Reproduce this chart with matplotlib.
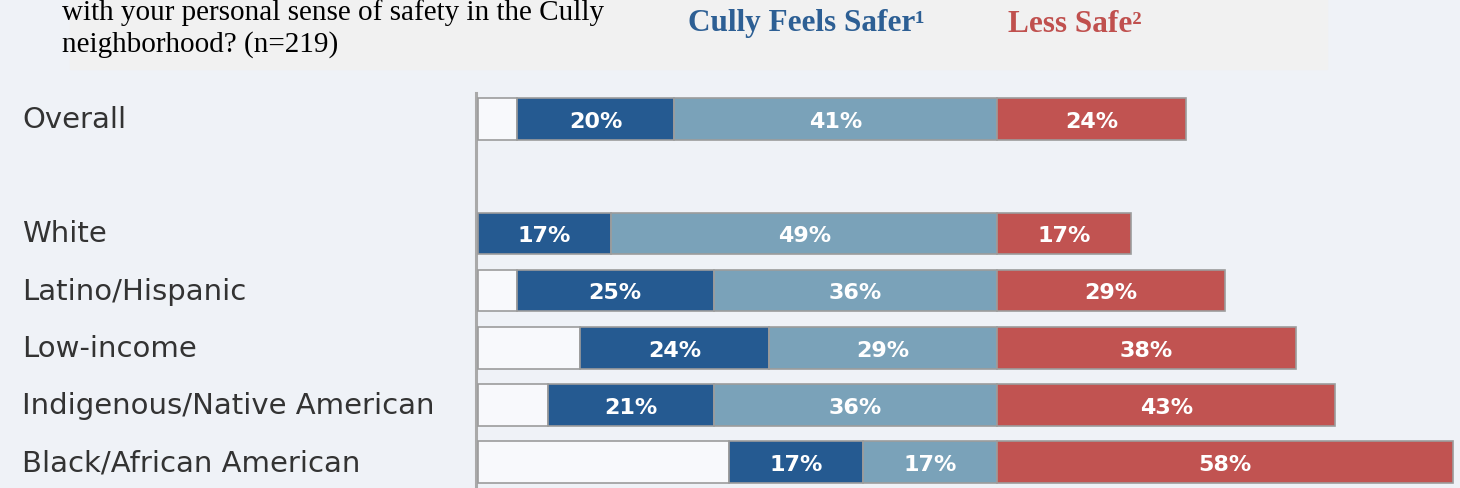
import numpy as np
import matplotlib
matplotlib.use("Agg")
import matplotlib.pyplot as plt
from matplotlib.patches import Rectangle

# survey data (percent)
groups = ["Overall", "White", "Latino/Hispanic", "Low-income",
          "Indigenous/Native American", "Black/African American"]
rows = [0, 2, 3, 4, 5, 6]
safer_much = [20, 17, 25, 24, 21, 17]
safer_some = [41, 49, 36, 29, 36, 17]
less_safe = [24, 17, 29, 38, 43, 58]

c_dark = "#255a91"
c_light = "#7aa2b9"
c_red = "#c15351"
c_edge = "#9c9c9c"
bg = "#eff2f7"

W, H = 1460, 489
fig = plt.figure(figsize=(W / 100, H / 100), dpi=100)
fig.patch.set_facecolor(bg)

ppu = 7.87          # pixels per percent
cx = 997            # pixel position of the centre line
ax = fig.add_axes([0, 0, 1, 1])
ax.set_facecolor("none")
ax.set_xlim(-cx / ppu, (W - cx) / ppu)
ax.set_ylim((H - 120) / 57.2, -120 / 57.2)
ax.axis("off")

left_span = max(a + b for a, b in zip(safer_much, safer_some))
h = 0.73
for r, d, l, s in zip(rows, safer_much, safer_some, less_safe):
    pad = left_span - d - l
    ax.barh(r, pad, left=-left_span, height=h, color="#f8f9fc",
            edgecolor=c_edge, linewidth=1.2)
    ax.barh(r, d, left=-(d + l), height=h, color=c_dark,
            edgecolor=c_edge, linewidth=1.2)
    ax.barh(r, l, left=-l, height=h, color=c_light,
            edgecolor=c_edge, linewidth=1.2)
    ax.barh(r, s, left=0, height=h, color=c_red,
            edgecolor=c_edge, linewidth=1.2)
    for x0, w in [(-(d + l), d), (-l, l), (0, s)]:
        ax.text(x0 + w / 2, r + 0.03, f"{w}%", ha="center", va="center",
                color="white", fontsize=16, fontweight="bold",
                family="DejaVu Sans")

# vertical axis line at the left end of the bars
ax.plot([-left_span - 0.25, -left_span - 0.25], [-0.45, 6.6],
        color="#a9a9a9", lw=2.2, zorder=0)

for r, g in zip(rows, groups):
    ax.text(-cx / ppu + 22 / ppu, r, g, ha="left", va="center",
            fontsize=21, color="#333333", family="DejaVu Sans")

# header box
fig.add_artist(Rectangle((70 / W, 1 - 70 / H), (1327 - 70) / W, 70 / H + 0.01,
                         transform=fig.transFigure, color="#f1f1f1", zorder=0))
fig.text(62 / W, 1 - 13 / H, "with your personal sense of safety in the Cully",
         fontsize=21, family="Liberation Serif", va="center", ha="left")
fig.text(62 / W, 1 - 45 / H, "neighborhood? (n=219)",
         fontsize=21, family="Liberation Serif", va="center", ha="left")
fig.text(688 / W, 1 - 24 / H, "Cully Feels Safer\u00b9", fontsize=22.5,
         family="Liberation Serif", fontweight="bold", color="#2d5f94",
         va="center", ha="left")
fig.text(1008 / W, 1 - 24 / H, "Less Safe\u00b2", fontsize=22.5,
         family="Liberation Serif", fontweight="bold", color="#c0504e",
         va="center", ha="left")

fig.savefig("out.png", dpi=100, facecolor=fig.get_facecolor())
